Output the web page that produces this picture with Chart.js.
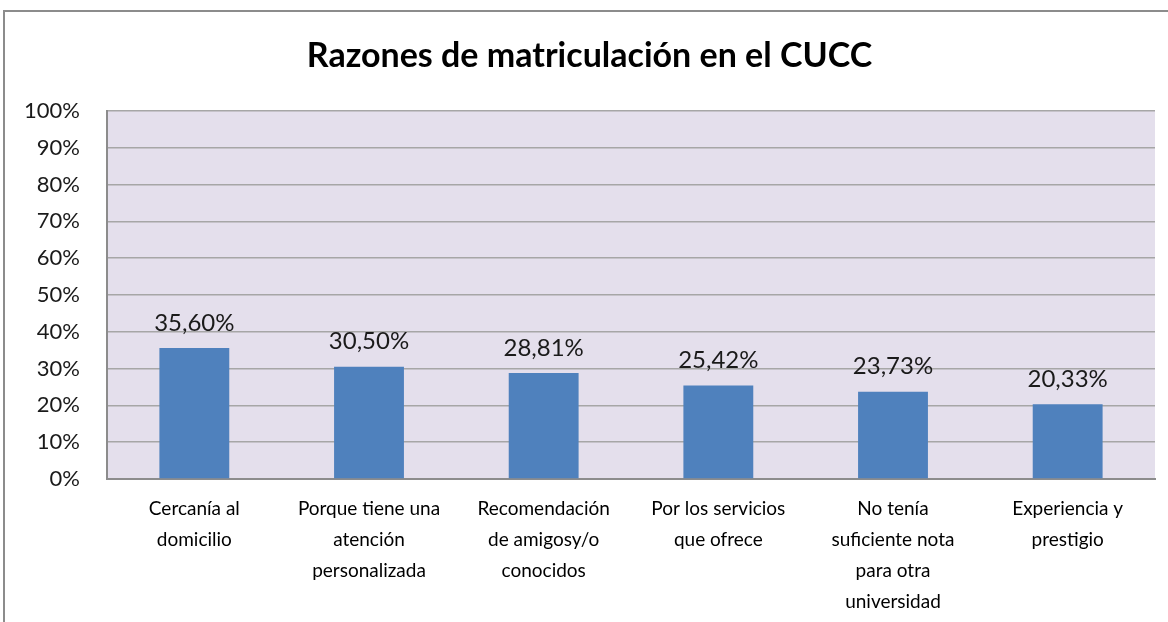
<!DOCTYPE html>
<html>
<head>
<meta charset="utf-8">
<script src="https://cdn.jsdelivr.net/npm/chart.js@4/dist/chart.umd.min.js"></script>
<style>
  body { margin: 0; background: #fff; }
  #wrap { position: relative; width: 1168px; height: 622px; overflow: hidden; }
  #frame { position: absolute; left: 3px; top: 10px; width: 1180px; height: 640px; border: 2px solid #8c8c8c; }
  canvas { position: absolute; left: 0; top: 0; }
</style>
</head>
<body>
<div id="wrap">
  <div id="frame"></div>
  <canvas id="chart" width="1168" height="622"></canvas>
</div>
<script>
const categories = [
  ["Cercanía al", "domicilio"],
  ["Porque tiene una", "atención", "personalizada"],
  ["Recomendación", "de amigosy/o", "conocidos"],
  ["Por los servicios", "que ofrece"],
  ["No tenía", "suficiente nota", "para otra", "universidad"],
  ["Experiencia y", "prestigio"],
];
const values = [35.6, 30.5, 28.81, 25.42, 23.73, 20.33];
const valueLabels = ["35,60%", "30,50%", "28,81%", "25,42%", "23,73%", "20,33%"];
const yTicks = [0, 10, 20, 30, 40, 50, 60, 70, 80, 90, 100];

const fontName = "Lato, 'Open Sans', sans-serif";

// fondo lila del area de trazado
const plotBg = {
  id: "plotBg",
  beforeDraw(chart) {
    const { ctx, chartArea } = chart;
    ctx.save();
    ctx.fillStyle = "#e4dfec";
    ctx.fillRect(chartArea.left, chartArea.top, chartArea.right - chartArea.left, chartArea.bottom - chartArea.top);
    ctx.restore();
  },
};

// etiquetas de valor encima de cada barra
const barLabels = {
  id: "barLabels",
  afterDatasetsDraw(chart) {
    const { ctx } = chart;
    const meta = chart.getDatasetMeta(0);
    ctx.save();
    ctx.font = "24px " + fontName;
    ctx.fillStyle = "#1a1a1a";
    ctx.textAlign = "center";
    ctx.textBaseline = "middle";
    meta.data.forEach((bar, i) => {
      ctx.fillText(valueLabels[i], bar.x, bar.y - 25);
    });
    ctx.restore();
  },
};

const configChart = {
  type: "bar",
  data: {
    labels: categories,
    datasets: [
      {
        data: values,
        backgroundColor: "#4f81bd",
        borderWidth: 0,
        categoryPercentage: 1,
        barPercentage: 0.4,
      },
    ],
  },
  options: {
    responsive: false,
    animation: false,
    layout: { padding: { left: 24, right: 13, top: 0, bottom: 0 } },
    plugins: {
      legend: { display: false },
      tooltip: { enabled: false },
      title: {
        display: true,
        text: "Razones de matriculación en el CUCC",
        color: "#000",
        font: { family: fontName, size: 34, weight: "bold", lineHeight: 1.2 },
        padding: { top: 36, bottom: 34 },
      },
    },
    scales: {
      x: {
        grid: { display: false, drawTicks: false },
        border: { color: "#8c8c8c", width: 2 },
        ticks: {
          color: "#000",
          font: { family: fontName, size: 19, lineHeight: 1.63 },
          padding: 14,
          maxRotation: 0,
          autoSkip: false,
        },
        afterFit: (s) => { s.height = 143; },
      },
      y: {
        min: 0,
        max: 100,
        afterBuildTicks: (s) => { s.ticks = yTicks.map((v) => ({ value: v })); },
        grid: { color: "#a6a6a6", lineWidth: 1.5, drawTicks: false },
        border: { color: "#8c8c8c", width: 2 },
        ticks: {
          color: "#1a1a1a",
          font: { family: fontName, size: 22 },
          padding: 27,
          callback: (v) => v + "%",
        },
        afterFit: (s) => { s.width = 83; },
      },
    },
  },
  plugins: [plotBg, barLabels],
};

const chart = new Chart(document.getElementById("chart"), configChart);
</script>
</body>
</html>
